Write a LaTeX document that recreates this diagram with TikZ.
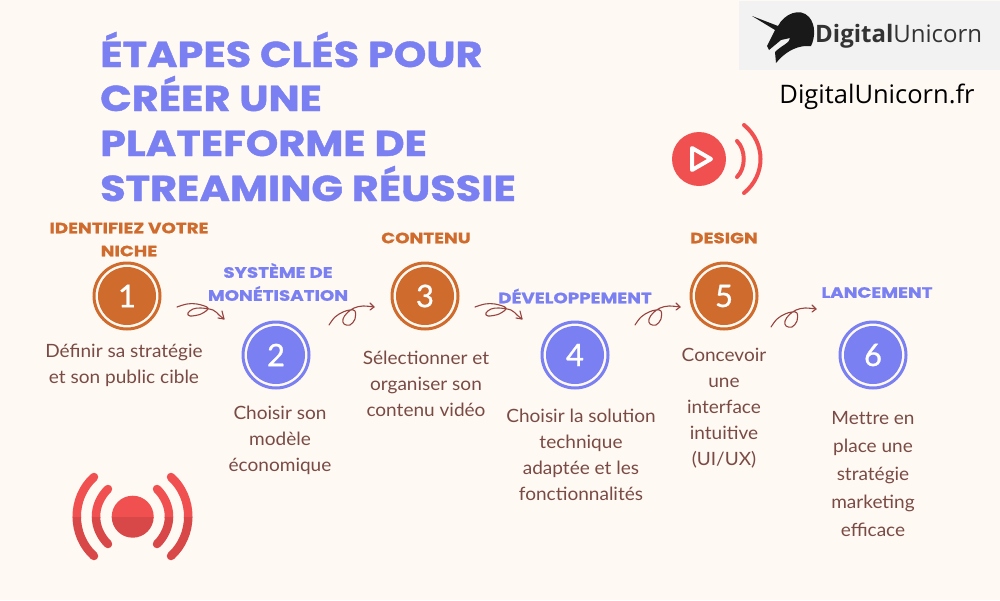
\documentclass[tikz,border=0pt]{standalone}
\usepackage{fontspec}
\usetikzlibrary{calc}
\setmainfont{Poppins}
\newfontfamily\titlef[FakeStretch=1.15,FakeBold=1.2]{Poppins}
\newfontfamily\headf[FakeStretch=1.22,FakeBold=0.8]{Poppins}
\newfontfamily\bodyf[FakeStretch=1.04]{Lato}
\newfontfamily\numf[FakeBold=0.8]{Lato}
\newfontfamily\logof{Open Sans}
\definecolor{bgc}{HTML}{FFF9F3}
\definecolor{orangec}{HTML}{CF6C2D}
\definecolor{bluec}{HTML}{7A80F2}
\definecolor{bodyc}{HTML}{7A4A44}
\definecolor{arrowc}{HTML}{96433F}
\definecolor{redc}{HTML}{F05050}
\definecolor{redd}{HTML}{D84848}
\tikzset{x=1pt,y=-1pt,
 ttl/.style={anchor=base west,text=bluec,font=\titlef\bfseries\fontsize{36}{36}\selectfont,inner sep=0pt},
 head/.style={align=center,font=\headf\bfseries\fontsize{15}{23}\selectfont,inner sep=0pt},
 headO/.style={head,text=orangec},
 headB/.style={head,text=bluec},
 bodyt/.style={align=center,text=bodyc,font=\bodyf\fontsize{18.3}{26}\selectfont,inner sep=0pt,anchor=north},
 bodyw/.style={bodyt,font=\bodyf\fontsize{18.3}{28}\selectfont},
 stepO/.style={circle,fill=orangec,minimum size=58pt,inner sep=0pt,text=white,font=\numf\fontsize{31}{31}\selectfont},
 stepB/.style={stepO,fill=bluec},
 ringO/.style={circle,draw=orangec,line width=3pt,minimum size=66pt,inner sep=0pt},
 ringB/.style={ringO,draw=bluec},
 squig/.style={draw=arrowc,line width=1.1pt,line cap=round,line join=round},
 wave/.style={line width=8.5pt,line cap=round}
}
\newcommand{\stepnode}[5]{%
 \node[ring#1] (r#2) at (#3,#4) {};
 \node[step#1] (s#2) at (#3,#4) {#5};}
\newcommand{\livewaves}[1]{%
 \fill[#1] (132.7,516.7) circle (21);
 \draw[#1,wave] (108,489) .. controls (92,505) and (92,528) .. (108,544);
 \draw[#1,wave] (157,489) .. controls (173,505) and (173,528) .. (157,544);
 \draw[#1,wave] (94,477) .. controls (71,498) and (71,535) .. (94,556);
 \draw[#1,wave] (171,477) .. controls (194,498) and (194,535) .. (171,556);}
\begin{document}
\begin{tikzpicture}
\useasboundingbox (0,0) rectangle (1000,600);
\fill[bgc] (0,0) rectangle (1000,600);
% logo
\fill[black!5] (739,1) rectangle (1000,70);
\fill[black!90] (752,16) -- (778,26) .. controls (784,14) and (800,7) .. (809,17) .. controls (816,25) and (815,38) .. (811,46) -- (805,46) .. controls (795,47) and (785,52) .. (776,63) -- (775,52) .. controls (782,45) and (790,43) .. (790,38) -- (781,40) -- (769,50) -- (767,46) -- (775,30) -- cycle;
\node[anchor=west,inner sep=0pt,font=\logof\fontsize{24}{24}\selectfont,text=black!80] (lg) at (815,36) {\textbf{Digital}Unicorn};
\node[anchor=center,inner sep=0pt,font=\logof\fontsize{25.5}{25.5}\selectfont,text=black] (site) at (877,97) {DigitalUnicorn.fr};
% title
\node[ttl] (t1) at (100,67) {ÉTAPES CLÉS POUR};
\node[ttl] (t2) at (100,111) {CRÉER UNE};
\node[ttl] (t3) at (100,156) {PLATEFORME DE};
\node[ttl] (t4) at (100,201) {STREAMING RÉUSSIE};
% play icon
\fill[redc] (699,159) circle (27);
\draw[white,line width=4pt,line join=round] (692,148) -- (711,159) -- (692,170) -- cycle;
\draw[redc,line width=4pt,line cap=round] (737,141) .. controls (746,150) and (746,168) .. (737,177);
\draw[redc,line width=4pt,line cap=round] (744,125) .. controls (766,143) and (766,175) .. (744,193);
% live icon
\begin{scope}
\clip (60,460) rectangle (200,517);
\livewaves{redc}
\end{scope}
\begin{scope}
\clip (60,517) rectangle (200,570);
\livewaves{redd}
\end{scope}
% steps
\stepnode{O}{1}{127}{296}{1}
\stepnode{B}{2}{276}{355}{2}
\stepnode{O}{3}{425}{296}{3}
\stepnode{B}{4}{575}{355}{4}
\stepnode{O}{5}{724}{296}{5}
\stepnode{B}{6}{873}{355}{6}
% headings
\node[headO] (h1) at (129,239.5) {IDENTIFIEZ VOTRE\\NICHE};
\node[headB] (h2) at (278,282) {SYSTÈME DE\\MONÉTISATION};
\node[headO] (h3) at (426,238) {CONTENU};
\node[headB] (h4) at (575,296) {DÉVELOPPEMENT};
\node[headO] (h5) at (724,238) {DESIGN};
\node[headB] (h6) at (877,292.5) {LANCEMENT};
% body
\node[bodyt] (b1) at (124,344) {Définir sa stratégie\\et son public cible};
\node[bodyt] (b2) at (280,406) {Choisir son\\modèle\\économique};
\node[bodyt] (b3) at (426,351) {Sélectionner et\\organiser son\\contenu vidéo};
\node[bodyt] (b4) at (581,409) {Choisir la solution\\technique\\adaptée et les\\fonctionnalités};
\node[bodyt] (b5) at (724,348) {Concevoir\\une\\interface\\intuitive\\(UI/UX)};
\node[bodyw] (b6) at (873,411) {Met\kern0pt tre en\\place une\\stratégie\\marketing\\efficace};
% squiggles
\foreach \n/\x/\y in {a/177/307, c/475/307}{
 \begin{scope}[shift={(\x,\y)}]
 \draw[squig] plot[smooth,tension=0.6] coordinates {(0,0)(10,-3)(20,-3)(31,1)(24,7)(13,9)(11,6)(16,2)(24,1)(36,3)(42,8)(47,12)};
 \draw[squig] (45,4) -- (47,12) -- (41,11);
 \end{scope}
}
\foreach \n/\x/\y in {b/329/325, d/635/325, e/771/327}{
 \begin{scope}[shift={(\x,\y)}]
 \draw[squig] plot[smooth,tension=0.6] coordinates {(0,0)(6,-8)(14,-13)(21,-15)(26,-14)(26,-6)(21,0)(15,-1)(14,-6)(18,-12)(25,-17)(34,-19)(45,-18)};
 \draw[squig] (41,-22) -- (45,-18) -- (41,-15);
 \end{scope}
}
\end{tikzpicture}
\end{document}
